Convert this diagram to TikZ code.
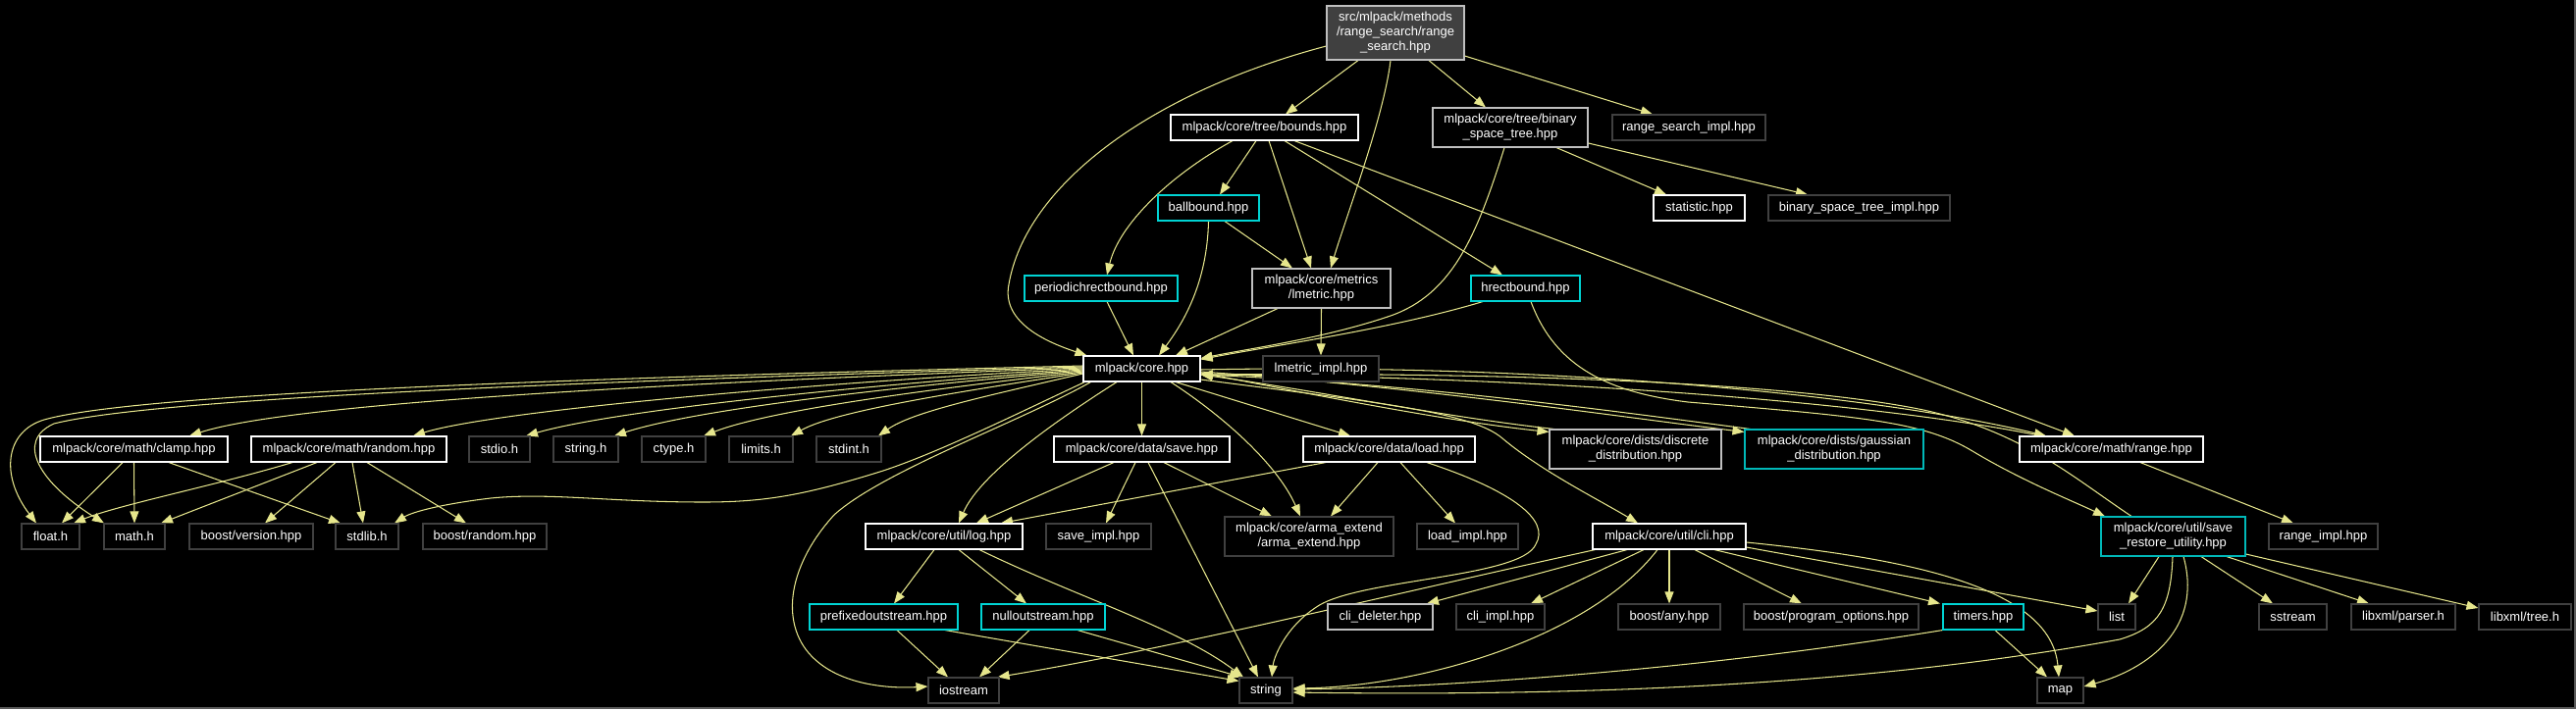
\documentclass[tikz,border=0pt]{standalone}
\usepackage{fontspec}
\newfontfamily\lsans{Liberation Sans}
\usetikzlibrary{arrows.meta}
\pgfdeclarelayer{back}
\pgfdeclarelayer{edges}
\pgfsetlayers{back,edges,main}
\definecolor{edgec}{HTML}{E6E68C}
\definecolor{ngray}{HTML}{BFBFBF}
\definecolor{ndark}{HTML}{404040}
\definecolor{ncyan}{HTML}{00D4D4}
\definecolor{nteal}{HTML}{00B8B8}
\definecolor{frame}{HTML}{5A5A5A}
\newcommand\nodefont{\lsans\fontsize{13}{15}\selectfont}
\begin{document}
\begin{tikzpicture}[x=1pt,y=-1pt,
  base/.style={rectangle, inner sep=0pt, line width=1.1pt, text=white, font=\nodefont, align=center, fill=black},
  wn/.style={base, draw=white},
  gn/.style={base, draw=ngray},
  dn/.style={base, draw=ndark},
  cn/.style={base, draw=ncyan},
  tn/.style={base, draw=nteal},
  sz/.style 2 args={minimum width=#1pt, minimum height=#2pt},
  e/.style={draw=edgec, line width=1.05pt, -{Triangle[length=12pt,width=9pt]}}]
\begin{pgfonlayer}{back}
\fill[black] (0,0) rectangle (2625,723);
\end{pgfonlayer}
\useasboundingbox (0,0) rectangle (2625,723);

% ---------- nodes ----------
\node[base, draw=ngray, fill=ndark, sz={140}{55}] (root) at (1422,33.5) {src/mlpack/methods\\/range\_search/range\\\_search.hpp};
\node[wn,sz={191}{26}] (bounds) at (1288.5,130) {mlpack/core/tree/bounds.hpp};
\node[gn,sz={158}{40}] (bst) at (1539,130) {mlpack/core/tree/binary\\\_space\_tree.hpp};
\node[dn,sz={156}{26}] (rsimpl) at (1721,130) {range\_search\_impl.hpp};
\node[cn,sz={103}{26}] (ballbound) at (1231.5,212) {ballbound.hpp};
\node[wn,sz={93}{26}] (statistic) at (1731.5,212) {statistic.hpp};
\node[dn,sz={185}{26}] (bstimpl) at (1894.5,212) {binary\_space\_tree\_impl.hpp};
\node[cn,sz={156}{26}] (periodic) at (1122,294) {periodichrectbound.hpp};
\node[gn,sz={141}{40}] (lmetric) at (1346.5,294) {mlpack/core/metrics\\/lmetric.hpp};
\node[cn,sz={111}{26}] (hrect) at (1554.5,294) {hrectbound.hpp};
\node[wn,sz={119}{26}] (core) at (1163.5,376) {mlpack/core.hpp};
\node[dn,sz={118}{26}] (lmimpl) at (1346,376) {lmetric\_impl.hpp};

\node[wn,sz={191}{26}] (clamp) at (136.5,458) {mlpack/core/math/clamp.hpp};
\node[wn,sz={199}{26}] (random) at (355.5,458) {mlpack/core/math/random.hpp};
\node[dn,sz={62}{26}] (stdio) at (509,458) {stdio.h};
\node[dn,sz={66}{26}] (stringh) at (597,458) {string.h};
\node[dn,sz={65}{26}] (ctype) at (686.5,458) {ctype.h};
\node[dn,sz={65}{26}] (limits) at (775.5,458) {limits.h};
\node[dn,sz={66}{26}] (stdint) at (865,458) {stdint.h};
\node[wn,sz={179}{26}] (save) at (1163.5,458) {mlpack/core/data/save.hpp};
\node[wn,sz={175}{26}] (load) at (1415.5,458) {mlpack/core/data/load.hpp};
\node[gn,sz={175}{40}] (discrete) at (1666.5,458) {mlpack/core/dists/discrete\\\_distribution.hpp};
\node[tn,sz={182}{40}] (gaussian) at (1869,458) {mlpack/core/dists/gaussian\\\_distribution.hpp};
\node[wn,sz={187}{26}] (range) at (2151.5,458) {mlpack/core/math/range.hpp};

\node[dn,sz={59}{26}] (float) at (51.5,547) {float.h};
\node[dn,sz={62}{26}] (math) at (137,547) {math.h};
\node[dn,sz={126}{26}] (bversion) at (256,547) {boost/version.hpp};
\node[dn,sz={64}{26}] (stdlib) at (374,547) {stdlib.h};
\node[dn,sz={126}{26}] (brandom) at (494,547) {boost/random.hpp};
\node[wn,sz={160}{26}] (log) at (962,547) {mlpack/core/util/log.hpp};
\node[dn,sz={107}{26}] (saveimpl) at (1119.5,547) {save\_impl.hpp};
\node[dn,sz={172}{40}] (arma) at (1334,547) {mlpack/core/arma\_extend\\/arma\_extend.hpp};
\node[dn,sz={103}{26}] (loadimpl) at (1495.5,547) {load\_impl.hpp};
\node[wn,sz={156}{26}] (cli) at (1701,547) {mlpack/core/util/cli.hpp};
\node[tn,sz={147}{40}] (srutil) at (2214.5,547) {mlpack/core/util/save\\\_restore\_utility.hpp};
\node[dn,sz={111}{26}] (rangeimpl) at (2367.5,547) {range\_impl.hpp};

\node[cn,sz={151}{26}] (prefixed) at (900.5,629) {prefixedoutstream.hpp};
\node[cn,sz={126}{26}] (nullout) at (1063,629) {nulloutstream.hpp};
\node[gn,sz={107}{26}] (clideleter) at (1406.5,629) {cli\_deleter.hpp};
\node[dn,sz={90}{26}] (cliimpl) at (1529,629) {cli\_impl.hpp};
\node[dn,sz={104}{26}] (bany) at (1701,629) {boost/any.hpp};
\node[dn,sz={178}{26}] (bpo) at (1866,629) {boost/program\_options.hpp};
\node[cn,sz={82}{26}] (timers) at (2021,629) {timers.hpp};
\node[dn,sz={38}{26}] (list) at (2157,629) {list};
\node[dn,sz={69}{26}] (sstream) at (2336.5,629) {sstream};
\node[dn,sz={106}{26}] (parser) at (2449,629) {libxml/parser.h};
\node[dn,sz={94}{26}] (tree) at (2573,629) {libxml/tree.h};

\node[dn,sz={72}{26}] (iostream) at (982,704) {iostream};
\node[dn,sz={54}{26}] (string) at (1290,704) {string};
\node[dn,sz={47}{26}] (map) at (2099.5,704) {map};

% ---------- edges ----------
\begin{pgfonlayer}{edges}
% root
\draw[e] ([yshift=-13.5pt]root.west) .. controls (1170,95) and (1045,190) .. (1028,290) .. controls (1020,330) and (1070,350) .. ([xshift=4pt]core.north west);
\draw[e] ([xshift=-38pt]root.south) -- ([xshift=21.5pt]bounds.north);
\draw[e] ([xshift=-5pt]root.south) .. controls (1410,120) and (1372,220) .. ([xshift=9.5pt]lmetric.north);
\draw[e] ([xshift=34pt]root.south) -- ([xshift=-25pt]bst.north);
\draw[e] ([yshift=-23.5pt]root.east) -- ([xshift=-37pt]rsimpl.north);
% bounds
\draw[e] ([xshift=-8.5pt]bounds.south) -- ([xshift=11.5pt]ballbound.north);
\draw[e] ([xshift=-32.5pt]bounds.south) .. controls (1190,180) and (1140,230) .. ([xshift=6pt]periodic.north);
\draw[e] ([xshift=4.5pt]bounds.south) -- ([xshift=-10.5pt]lmetric.north);
\draw[e] ([xshift=20.5pt]bounds.south) -- ([xshift=-23.5pt]hrect.north);
\draw[e] ([xshift=30.5pt]bounds.south) -- ([xshift=-37.5pt]range.north);
% binary space tree
\draw[e] ([xshift=-6pt]bst.south) .. controls (1505,240) and (1480,300) .. (1417,322) .. controls (1350,345) and (1270,356) .. ([yshift=-3pt]core.north east);
\draw[e] ([xshift=47pt]bst.south) -- ([xshift=-33.5pt]statistic.north);
\draw[e] ([yshift=-16pt]bst.east) -- ([xshift=-52.5pt]bstimpl.north);
% ballbound, periodic, lmetric, hrect
\draw[e] (ballbound.south) .. controls (1230,290) and (1205,330) .. ([xshift=17.5pt]core.north);
\draw[e] ([xshift=16.5pt]ballbound.south) -- ([xshift=-29.5pt]lmetric.north);
\draw[e] ([xshift=6pt]periodic.south) -- ([xshift=-8.5pt]core.north);
\draw[e] ([xshift=-44.5pt]lmetric.south) -- ([xshift=34.5pt]core.north);
\draw[e] (lmetric.south) -- (lmimpl.north);
\draw[e] ([xshift=-43.5pt]hrect.south) .. controls (1420,335) and (1300,352) .. ([yshift=-4pt]core.north east);
\draw[e] ([xshift=5.5pt]hrect.south) .. controls (1585,375) and (1640,400) .. (1720,410) .. controls (1900,425) and (1960,430) .. (2010,460) .. controls (2060,490) and (2110,510) .. ([xshift=-69.5pt]srutil.north);
% core -> left bundle
\draw[e] ([yshift=3pt]core.west) .. controls (700,383) and (150,398) .. (45,428) .. controls (5,440) and (0,485) .. ([xshift=-14.5pt]float.north);
\draw[e] ([yshift=2pt]core.west) .. controls (700,386) and (170,403) .. (55,432) .. controls (15,450) and (40,492) .. ([xshift=-31pt]math.north);
\draw[e] ([yshift=1pt]core.west) .. controls (700,390) and (300,410) .. ([xshift=56.5pt]clamp.north);
\draw[e] (core.west) .. controls (800,392) and (500,420) .. ([xshift=65.5pt]random.north);
\draw[e] ([yshift=-1pt]core.west) .. controls (850,395) and (620,420) .. ([xshift=27pt]stdio.north);
\draw[e] ([yshift=-2pt]core.west) .. controls (880,397) and (700,420) .. ([xshift=29pt]stringh.north);
\draw[e] ([yshift=-3pt]core.west) .. controls (920,400) and (780,420) .. ([xshift=30.5pt]ctype.north);
\draw[e] ([yshift=-4pt]core.west) .. controls (960,402) and (850,420) .. ([xshift=30.5pt]limits.north);
\draw[e] ([yshift=-5pt]core.west) .. controls (1000,405) and (930,420) .. ([xshift=30pt]stdint.north);
\draw[e] ([xshift=2pt]core.south west) .. controls (1040,420) and (960,460) .. (900,480) .. controls (820,505) and (780,512) .. (717,512) .. controls (620,512) and (560,502) .. (500,508) .. controls (450,514) and (420,522) .. ([xshift=28pt]stdlib.north);
\draw[e] ([xshift=8pt]core.south west) .. controls (1040,430) and (900,480) .. (850,525) .. controls (800,580) and (795,640) .. (830,672) .. controls (860,700) and (910,702) .. ([yshift=4pt]iostream.west);
\draw[e] ([xshift=-25.5pt]core.south) .. controls (1090,420) and (1000,480) .. ([xshift=15pt]log.north);
% core -> down
\draw[e] (core.south) -- (save.north);
\draw[e] ([xshift=34.5pt]core.south) -- ([xshift=-39.5pt]load.north);
\draw[e] ([xshift=29.5pt]core.south) .. controls (1240,420) and (1300,470) .. ([xshift=-9pt]arma.north);
\draw[e] ([yshift=-11pt]core.east) .. controls (1400,410) and (1500,420) .. (1531,447) .. controls (1570,480) and (1630,510) .. ([xshift=-32pt]cli.north);
% core <-> right side
\draw[e] ([yshift=-1pt]core.east) .. controls (1550,370) and (1900,400) .. ([xshift=-66.5pt]range.north);
\draw[e] ([xshift=-71.5pt]range.north) .. controls (1900,408) and (1550,384) .. ([yshift=-6pt]core.east);
\draw[e] ([yshift=-3pt]core.east) .. controls (1450,395) and (1650,425) .. ([yshift=-3pt]gaussian.north west);
\draw[e] ([xshift=6pt]gaussian.north west) .. controls (1650,420) and (1450,392) .. ([yshift=-6pt]core.east);
\draw[e] ([yshift=-4pt]core.east) .. controls (1350,405) and (1480,430) .. ([yshift=-3pt]discrete.north west);
\draw[e] ([xshift=5pt]discrete.north west) .. controls (1470,425) and (1340,398) .. ([yshift=-6pt]core.east);
\draw[e] ([xshift=-42.5pt]srutil.north) .. controls (2110,485) and (2060,440) .. (1960,418) .. controls (1800,385) and (1450,380) .. ([yshift=-6pt]core.east);
% save / load
\draw[e] ([xshift=-28.5pt]save.south) -- ([xshift=33pt]log.north);
\draw[e] ([xshift=-6.5pt]save.south) -- ([xshift=7.5pt]saveimpl.north);
\draw[e] ([xshift=22.5pt]save.south) -- ([xshift=-38pt]arma.north);
\draw[e] ([xshift=6.5pt]save.south) -- ([xshift=-8pt]string.north);
\draw[e] ([xshift=-64.5pt]load.south) -- ([xshift=58pt]log.north);
\draw[e] ([xshift=-11.5pt]load.south) -- ([xshift=22pt]arma.north);
\draw[e] ([xshift=11.5pt]load.south) -- ([xshift=-12.5pt]loadimpl.north);
\draw[e] ([xshift=38.5pt]load.south) .. controls (1540,500) and (1580,530) .. (1565,555) .. controls (1550,590) and (1380,590) .. (1340,620) .. controls (1310,640) and (1298,670) .. ([xshift=6pt]string.north);
% log and streams
\draw[e] ([xshift=-10pt]log.south) -- ([xshift=10.5pt]prefixed.north);
\draw[e] ([xshift=15pt]log.south) -- ([xshift=-17pt]nullout.north);
\draw[e] ([xshift=36pt]log.south) .. controls (1100,610) and (1200,640) .. ([xshift=-23pt]string.north);
\draw[e] ([xshift=13.5pt]prefixed.south) -- ([xshift=-16pt]iostream.north);
\draw[e] ([xshift=62.5pt]prefixed.south) -- ([yshift=-4pt]string.north west);
\draw[e] ([xshift=-14pt]nullout.south) -- ([xshift=16pt]iostream.north);
\draw[e] ([xshift=35pt]nullout.south) -- ([xshift=-25pt]string.north);
% left math nodes
\draw[e] ([xshift=-11.5pt]clamp.south) -- ([xshift=11.5pt]float.north);
\draw[e] (clamp.south) -- (math.north);
\draw[e] ([xshift=35.5pt]clamp.south) -- ([xshift=-27pt]stdlib.north);
\draw[e] ([xshift=-57.5pt]random.south) .. controls (220,495) and (120,515) .. ([xshift=23.5pt]float.north);
\draw[e] ([xshift=-32.5pt]random.south) -- ([xshift=27pt]math.north);
\draw[e] ([xshift=-13.5pt]random.south) -- ([xshift=14pt]bversion.north);
\draw[e] ([xshift=3.5pt]random.south) -- ([xshift=-4pt]stdlib.north);
\draw[e] ([xshift=18.5pt]random.south) -- ([xshift=-19pt]brandom.north);
% cli
\draw[e] ([xshift=3pt]cli.south west) .. controls (1400,610) and (1200,660) .. ([xshift=-2pt]iostream.north east);
\draw[e] ([xshift=-43pt]cli.south) -- ([xshift=47.5pt]clideleter.north);
\draw[e] ([xshift=-26pt]cli.south) -- ([xshift=31pt]cliimpl.north);
\draw[e] (cli.south) -- (bany.north);
\draw[e] ([xshift=26pt]cli.south) -- ([xshift=-30pt]bpo.north);
\draw[e] ([xshift=46pt]cli.south) -- ([xshift=-44pt]timers.north);
\draw[e] ([yshift=-11pt]cli.east) -- ([yshift=6pt]list.west);
\draw[e] ([yshift=-6pt]cli.east) .. controls (1950,570) and (2090,600) .. ([xshift=-1.5pt]map.north);
\draw[e] ([xshift=-12pt]cli.south) .. controls (1620,650) and (1450,700) .. ([yshift=2pt]string.east);
% timers
\draw[e] ([xshift=12pt]timers.south) -- ([xshift=-13.5pt]map.north);
\draw[e] (timers.south west) .. controls (1750,680) and (1500,700) .. ([yshift=1pt]string.east);
% save restore utility
\draw[e] ([xshift=-14.5pt]srutil.south) -- ([xshift=12pt]list.north);
\draw[e] ([xshift=10.5pt]srutil.south) .. controls (2245,640) and (2190,682) .. ([yshift=4pt]map.east);
\draw[e] ([xshift=-0.5pt]srutil.south) .. controls (2212,620) and (2200,640) .. (2160,652) .. controls (1900,700) and (1600,710) .. ([yshift=-2pt]string.east);
\draw[e] ([xshift=28.5pt]srutil.south) -- ([xshift=-20.5pt]sstream.north);
\draw[e] ([xshift=54.5pt]srutil.south) -- ([xshift=-35pt]parser.north);
\draw[e] ([yshift=-18pt]srutil.east) -- ([yshift=9pt]tree.west);
% range
\draw[e] ([xshift=29.5pt]range.south) -- ([xshift=-30.5pt]rangeimpl.north);
\end{pgfonlayer}

% frame lines at right and bottom
\draw[frame, line width=1.5pt] (0,722.2) -- (2624.2,722.2) -- (2624.2,0);
\end{tikzpicture}
\end{document}
